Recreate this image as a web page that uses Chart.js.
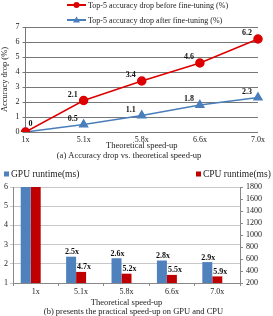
<!DOCTYPE html>
<html>
<head>
<meta charset="utf-8">
<script src="https://cdn.jsdelivr.net/npm/chart.js@4.4.1/dist/chart.umd.min.js"></script>
<style>
html,body{margin:0;padding:0;background:#fff;}
#w1{position:absolute;left:0;top:0;width:273px;height:161px;}
#w2{position:absolute;left:0;top:160px;width:273px;height:156px;}
</style>
</head>
<body>
<div id="w1"><canvas id="c1"></canvas></div>
<div id="w2"><canvas id="c2"></canvas></div>
<script>
// ---- data ----
const speedLabels = ['1x', '5.1x', '5.8x', '6.6x', '7.0x'];
const dropBefore = [0, 2.1, 3.4, 4.6, 6.2];
const dropAfter = [0, 0.5, 1.1, 1.8, 2.3];
const gpuRuntime = [6, 2.37, 2.29, 2.17, 2.09];
const cpuRuntime = [1800, 385, 355, 335, 310];
const gpuSpeedup = ['', '2.5x', '2.6x', '2.8x', '2.9x'];
const cpuSpeedup = ['', '4.7x', '5.2x', '5.5x', '5.9x'];
const dropTicks = [0, 1, 2, 3, 4, 5, 6, 7];

const FONT = "'Liberation Serif', 'Times New Roman', serif";
const RED = '#dd0000', BLUE = '#4a7ebb';
const BAR_BLUE = '#4f81bd', BAR_RED = '#c00000';
Chart.defaults.font.family = FONT;
Chart.defaults.color = '#222';
Chart.defaults.animation = false;

// legend for the line chart (line + marker icon)
const lineLegend = {
  id: 'lineLegend',
  afterDraw(chart) {
    const ctx = chart.ctx;
    ctx.save();
    chart.data.datasets.forEach((ds, i) => {
      const x = 67, y = 5 + i * 15;
      ctx.strokeStyle = ds.borderColor; ctx.lineWidth = 2;
      ctx.beginPath(); ctx.moveTo(x, y); ctx.lineTo(x + 19, y); ctx.stroke();
      ctx.fillStyle = ds.backgroundColor;
      ctx.beginPath();
      if (ds.pointStyle === 'triangle') {
        ctx.moveTo(x + 9.5, y - 3.5); ctx.lineTo(x + 13, y + 2.5); ctx.lineTo(x + 6, y + 2.5); ctx.closePath();
      } else {
        ctx.arc(x + 9.5, y, 3, 0, Math.PI * 2);
      }
      ctx.fill();
      ctx.fillStyle = '#222';
      ctx.font = '8px ' + FONT;
      ctx.textBaseline = 'middle'; ctx.textAlign = 'left';
      ctx.fillText(ds.label, x + 21, y + 0.5);
    });
    ctx.restore();
  }
};

// value labels for points
const pointLabels = {
  id: 'pointLabels',
  afterDatasetsDraw(chart) {
    const ctx = chart.ctx;
    ctx.save();
    ctx.font = 'bold 8px ' + FONT;
    ctx.fillStyle = '#111';
    ctx.textAlign = 'center'; ctx.textBaseline = 'middle';
    const seen = new Set();
    chart.data.datasets.forEach((ds, di) => {
      const meta = chart.getDatasetMeta(di);
      meta.data.forEach((el, i) => {
        const key = Math.round(el.x) + ',' + Math.round(el.y);
        if (seen.has(key)) return;
        seen.add(key);
        const v = ds.data[i];
        const dx = i === 0 ? 5 : -11;
        const dy = i === 0 ? -8 : -6;
        ctx.fillText(String(v), el.x + dx, el.y + dy);
      });
    });
    ctx.restore();
  }
};

new Chart(document.getElementById('c1'), {
  type: 'line',
  data: {
    labels: speedLabels,
    datasets: [
      { label: 'Top-5 accuracy drop before fine-tuning (%)', data: dropBefore,
        borderColor: RED, backgroundColor: RED, borderWidth: 1.5,
        pointStyle: 'circle', pointRadius: 4, pointHoverRadius: 4 },
      { label: 'Top-5 accuracy drop after fine-tuning (%)', data: dropAfter,
        borderColor: BLUE, backgroundColor: BLUE, borderWidth: 1.5,
        pointStyle: 'triangle', pointRadius: 4.5, pointHoverRadius: 4.5 }
    ]
  },
  options: {
    responsive: true, maintainAspectRatio: false,
    layout: { padding: { top: 27, right: 15, left: 0, bottom: 1 } },
    plugins: {
      legend: { display: false }, tooltip: { enabled: false },
      subtitle: { display: true, position: 'bottom', text: '(a) Accuracy drop vs. theoretical speed-up',
        font: { size: 8.5, family: FONT, lineHeight: 1 }, color: '#222', padding: { top: 0, bottom: 0 } }
    },
    scales: {
      x: { type: 'category', offset: false,
        grid: { display: false, drawTicks: false, tickLength: 0 },
        border: { display: false },
        ticks: { font: { size: 8, lineHeight: 1 }, padding: 4, maxRotation: 0, autoSkip: false },
        title: { display: true, text: 'Theoretical speed-up', font: { size: 8.5, lineHeight: 1 }, padding: { top: -6, bottom: 1 } } },
      y: { min: 0, max: 7,
        afterBuildTicks(s) { s.ticks = dropTicks.map(v => ({ value: v })); },
        grid: { color: '#777', lineWidth: 1, tickLength: 3 },
        border: { color: '#777' },
        ticks: { font: { size: 8 }, padding: 3 },
        title: { display: true, text: 'Accuracy drop (%)', font: { size: 8.5, lineHeight: 1 }, padding: { top: 1, bottom: 3 } } }
    }
  },
  plugins: [lineLegend, pointLabels]
});

// legend for the bar chart
const barLegend = {
  id: 'barLegend',
  afterDraw(chart) {
    const ctx = chart.ctx;
    ctx.save();
    ctx.font = '9.5px ' + FONT;
    ctx.textBaseline = 'middle'; ctx.textAlign = 'left';
    const pos = [4, 196];
    [0, 1].forEach(i => {
      const ds = chart.data.datasets[i];
      const x = pos[i], y = 14;
      ctx.fillStyle = ds.backgroundColor;
      ctx.fillRect(x, y - 2.5, 5, 5);
      ctx.fillStyle = '#222';
      ctx.fillText(ds.label, x + 7, y + 0.5);
    });
    ctx.restore();
  }
};

const barLabels = {
  id: 'barLabels',
  afterDatasetsDraw(chart) {
    const ctx = chart.ctx;
    ctx.save();
    ctx.font = 'bold 8px ' + FONT;
    ctx.fillStyle = '#111';
    ctx.textAlign = 'center'; ctx.textBaseline = 'bottom';
    const texts = [gpuSpeedup, cpuSpeedup];
    [0, 1].forEach(di => {
      chart.getDatasetMeta(di).data.forEach((el, i) => {
        const t = texts[di][i];
        if (t) ctx.fillText(t, el.x + (di === 1 ? 3 : 1), el.y - 0.5);
      });
    });
    ctx.restore();
  }
};

new Chart(document.getElementById('c2'), {
  type: 'bar',
  data: {
    labels: speedLabels,
    datasets: [
      { label: 'GPU runtime(ms)', data: gpuRuntime, yAxisID: 'y', backgroundColor: BAR_BLUE,
        categoryPercentage: 0.66, barPercentage: 1 },
      { label: 'CPU runtime(ms)', data: cpuRuntime, yAxisID: 'y1', backgroundColor: BAR_RED,
        categoryPercentage: 0.66, barPercentage: 1 },
      { label: '', data: speedLabels.map(() => null), yAxisID: 'y', backgroundColor: 'rgba(0,0,0,0)',
        categoryPercentage: 0.66, barPercentage: 1 }
    ]
  },
  options: {
    responsive: true, maintainAspectRatio: false,
    layout: { padding: { top: 27, right: 8, left: 2, bottom: 0 } },
    plugins: {
      legend: { display: false }, tooltip: { enabled: false },
      subtitle: { display: true, position: 'bottom', text: '(b) presents the practical speed-up on GPU and CPU',
        font: { size: 8.5, family: FONT, lineHeight: 1 }, color: '#222', padding: { top: 0, bottom: 0 } }
    },
    scales: {
      x: { offset: true,
        grid: { offset: true, drawOnChartArea: false, drawTicks: true, tickLength: 3, color: '#888' },
        border: { color: '#888' },
        ticks: { font: { size: 8, lineHeight: 1 }, padding: 2, maxRotation: 0, autoSkip: false },
        title: { display: true, text: 'Theoretical speed-up', font: { size: 8.5, lineHeight: 1 }, padding: { top: 1, bottom: 0 } } },
      y: { position: 'left', min: 1, max: 6,
        ticks: { stepSize: 1, font: { size: 8 }, padding: 2 },
        grid: { color: '#c8c8c8', tickLength: 3 },
        border: { color: '#888' } },
      y1: { position: 'right', min: 200, max: 1800,
        ticks: { stepSize: 200, font: { size: 8 }, padding: 3, autoSkip: false,
          callback: v => String(v) },
        grid: { drawOnChartArea: false, tickLength: 3, color: '#888' },
        border: { color: '#888' } }
    }
  },
  plugins: [barLegend, barLabels]
});
</script>
</body>
</html>
